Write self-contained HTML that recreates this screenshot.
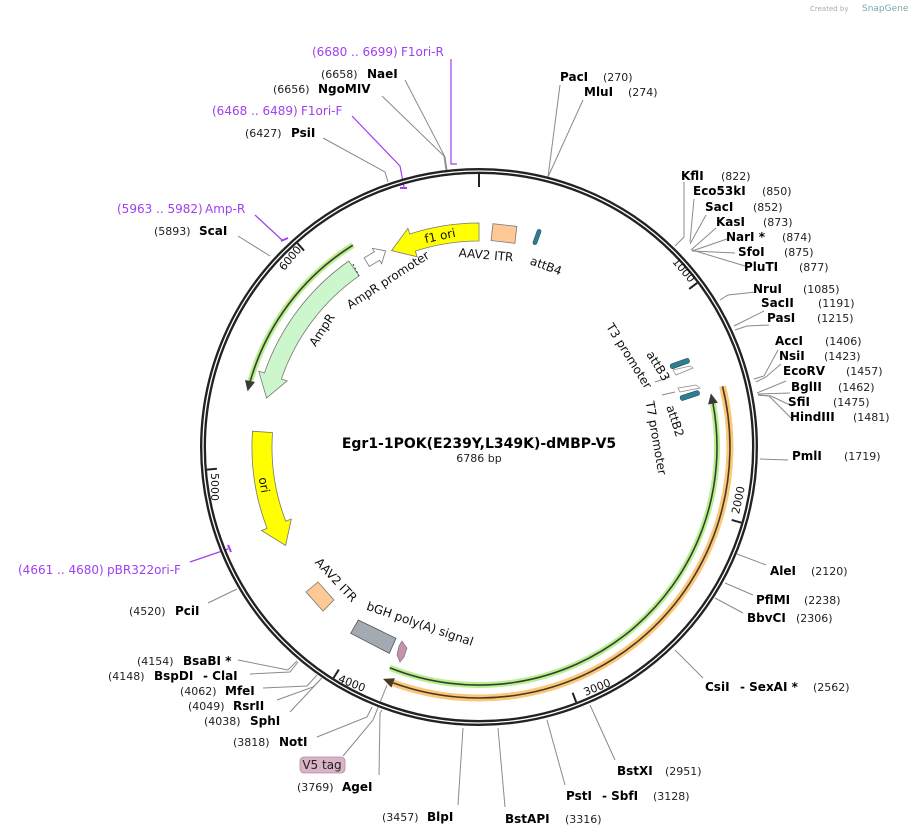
<!DOCTYPE html>
<html><head><meta charset="utf-8"><style>
html,body{margin:0;padding:0;background:#fff;}
svg{display:block;font-family:"DejaVu Sans","Liberation Sans",sans-serif;}
.n{font-size:12px;font-weight:bold;fill:#000;}
.p{font-size:11px;fill:#222;}
.pr{font-size:12px;fill:#a040f0;}
.f{font-size:12px;fill:#111;}
.l{stroke:#8a8a8a;stroke-width:1;fill:none;}
.pl{stroke:#a040f0;stroke-width:1.2;fill:none;}
</style></head><body>
<svg width="908" height="837" viewBox="0 0 908 837" xmlns="http://www.w3.org/2000/svg">
<text x="810" y="11" font-size="7" fill="#aaa">Created by</text>
<text x="862" y="11" font-size="9" fill="#7aa">SnapGene</text>

<g class="l">
<polyline points="560,85 548,177"/>
<polyline points="583,100 548,177"/>
<polyline points="405,80 445,157 447,170"/>
<polyline points="382,96 444,156 446,170"/>
<polyline points="323,138 385,172 388,182"/>
<polyline points="238,236 270,256"/>
<polyline points="684,182 684,237 675,246"/>
<polyline points="694,199 690,242"/>
<polyline points="706,215 690,244"/>
<polyline points="716,228 691,250"/>
<polyline points="727,239 692,251"/>
<polyline points="735,253 692,251"/>
<polyline points="745,266 692,250"/>
<polyline points="756,292 728,295 720,300"/>
<polyline points="764,311 734,326"/>
<polyline points="769,325 747,326 735,330"/>
<polyline points="778,350 764,376 754,379"/>
<polyline points="781,364 766,377 756,382"/>
<polyline points="786,381 757,393"/>
<polyline points="790,393 758,394"/>
<polyline points="792,406 771,396 758,395"/>
<polyline points="793,420 769,396 758,395"/>
<polyline points="788,460 760,459"/>
<polyline points="766,565 737,554"/>
<polyline points="753,595 725,583"/>
<polyline points="743,613 715,598"/>
<polyline points="703,678 675,650"/>
<polyline points="615,760 590,705"/>
<polyline points="565,785 547,720"/>
<polyline points="505,807 498,728"/>
<polyline points="458,805 463,728"/>
<polyline points="379,775 380,713 382,710"/>
<polyline points="343,756 373,720 387,685"/>
<polyline points="317,737 367,717 372,707"/>
<polyline points="290,712 320,680"/>
<polyline points="277,700 313,687 322,678"/>
<polyline points="263,688 307,686 317,675"/>
<polyline points="250,674 290,672 298,662"/>
<polyline points="238,660 288,670 297,661"/>
<polyline points="208,603 237,589"/>
</g>

<g class="pl">
<polyline points="451,59 451,164 457,164"/>
<polyline points="352,116 400,166 404,187"/>
<line x1="400" y1="188" x2="407" y2="188" stroke-width="2"/>
<polyline points="255,215 282,240"/>
<line x1="281" y1="241" x2="288" y2="238" stroke-width="2"/>
<polyline points="190,562 228,549"/>
<line x1="228" y1="545" x2="231" y2="552" stroke-width="2"/>
</g>

<circle cx="479" cy="447" r="276" fill="none" stroke="#222" stroke-width="6"/>
<circle cx="479" cy="447" r="276" fill="none" stroke="#fff" stroke-width="1.3"/>

<g stroke="#222" stroke-width="2">
<line x1="479" y1="173" x2="479" y2="187"/>
<line x1="479" y1="174" x2="479" y2="184" transform="rotate(53.05 479 447)"/>
<line x1="479" y1="174" x2="479" y2="184" transform="rotate(106.1 479 447)"/>
<line x1="479" y1="174" x2="479" y2="184" transform="rotate(159.15 479 447)"/>
<line x1="479" y1="174" x2="479" y2="184" transform="rotate(212.2 479 447)"/>
<line x1="479" y1="174" x2="479" y2="184" transform="rotate(265.25 479 447)"/>
<line x1="479" y1="174" x2="479" y2="184" transform="rotate(318.3 479 447)"/>
</g>
<g font-size="11" fill="#111" text-anchor="middle">
<text x="684" y="274" transform="rotate(50 684 270)">1000</text>
<text x="738" y="504" transform="rotate(-78 738 500)">2000</text>
<text x="597" y="691" transform="rotate(-22 597 687)">3000</text>
<text x="352" y="687" transform="rotate(22 352 683)">4000</text>
<text x="215" y="491" transform="rotate(90 215 487)">5000</text>
<text x="290" y="262" transform="rotate(-50 290 258)">6000</text>
</g>

<path d="M479,223 A224,224 0 0 0 409.8,234 L407.9,228.3 L391.6,250.6 L417.2,256.8 L415.3,251.1 A206,206 0 0 1 479,241 Z" fill="#ffff00" stroke="#777" stroke-width="0.8"/>
<text class="f" x="440" y="240" text-anchor="middle" transform="rotate(-12 440 236)">f1 ori</text>
<rect x="492" y="225" width="24" height="17" fill="#fec994" stroke="#777" stroke-width="0.8" transform="rotate(6.5 504 233)"/>
<text class="f" x="486" y="259" text-anchor="middle" transform="rotate(5 486 255)">AAV2 ITR</text>
<rect x="535" y="229" width="4" height="16" rx="2" fill="#2a7f95" stroke="#234" stroke-width="0.5" transform="rotate(20 537 237)"/>
<text class="f" x="546" y="270" text-anchor="middle" transform="rotate(20 546 266)">attB4</text>

<path d="M-10,0 L0,-9 L0,-5 L12,-5 L12,5 L0,5 L0,9 Z" fill="#fff" stroke="#777" stroke-width="0.8" transform="translate(377,256) rotate(149)"/>
<text class="f" x="388" y="284" text-anchor="middle" transform="rotate(-33 388 280)">AmpR promoter</text>

<path d="M348.8,261 A227,227 0 0 0 264.4,373.1 L258.7,371.1 L266.6,397.9 L287.1,380.9 L281.4,379 A209,209 0 0 1 359.1,275.8 Z" fill="#ccf7cc" stroke="#777" stroke-width="0.8"/>
<line x1="353" y1="264" x2="359" y2="276" stroke="#333" stroke-dasharray="2,2"/>
<text class="f" x="322" y="334" text-anchor="middle" transform="rotate(-57 322 330)">AmpR</text>

<path d="M352.9,245.2 A238,238 0 0 0 250.2,381.4" fill="none" stroke="#b8f08c" stroke-width="6"/>
<path d="M352.9,245.2 A238,238 0 0 0 250.2,381.4" fill="none" stroke="#3a3a3a" stroke-width="1.6"/>
<polygon points="245,380 255,382 247.6,391.4" fill="#3a3a3a"/>

<path d="M252.5,431.2 A227,227 0 0 0 267.1,528.4 L261.5,530.5 L285.6,545.5 L291.3,519 L285.7,521.2 A207,207 0 0 1 272.5,432.6 Z" fill="#ffff00" stroke="#777" stroke-width="0.8"/>
<text class="f" x="264" y="489" text-anchor="middle" transform="rotate(80 264 485)">ori</text>

<polygon points="306,592 318,582 334,600 323,611" fill="#fec994" stroke="#777" stroke-width="0.8"/>
<text class="f" x="336" y="584" text-anchor="middle" transform="rotate(47 336 580)">AAV2 ITR</text>
<polygon points="350.7,633.3 358.3,620 396,638.3 389.3,653.3" fill="#a3aab2" stroke="#555" stroke-width="0.8"/>
<text class="f" x="420" y="628" text-anchor="middle" transform="rotate(19 420 624)">bGH poly(A) signal</text>
<polygon points="402,641 407,648 404,657 400,662 397,655 399,646" fill="#c891b0" stroke="#666" stroke-width="0.6"/>

<rect x="670" y="361" width="20" height="5" rx="2" fill="#2a7f95" stroke="#234" stroke-width="0.5" transform="rotate(-20 680 364)"/>
<polygon points="673,370 690,366 693,368 676,375" fill="#fff" stroke="#888" stroke-width="0.7"/>
<line x1="655" y1="382" x2="670" y2="377" class="l"/>
<polygon points="678,388 696,385 700,388 680,392" fill="#fff" stroke="#888" stroke-width="0.7"/>
<rect x="680" y="393" width="20" height="5" rx="2" fill="#2a7f95" stroke="#234" stroke-width="0.5" transform="rotate(-18 690 396)"/>
<line x1="662" y1="395" x2="675" y2="392" class="l"/>
<text class="f" x="629" y="360" text-anchor="middle" transform="rotate(58 629 356)">T3 promoter</text>
<text class="f" x="658" y="370" text-anchor="middle" transform="rotate(58 658 366)">attB3</text>
<text class="f" x="675" y="425" text-anchor="middle" transform="rotate(72 675 421)">attB2</text>
<text class="f" x="656" y="442" text-anchor="middle" transform="rotate(80 656 438)">T7 promoter</text>

<path d="M389.8,667.7 A238,238 0 0 0 713,403.6" fill="none" stroke="#b8f08c" stroke-width="6"/>
<path d="M389.8,667.7 A238,238 0 0 0 713,403.6" fill="none" stroke="#3a3a3a" stroke-width="1.6"/>
<polygon points="717.9,402.7 708.1,404.5 710.9,393.4" fill="#3a3a3a"/>
<path d="M722.5,386.3 A251,251 0 0 1 393.2,682.9" fill="none" stroke="#fbc77a" stroke-width="7"/>
<path d="M722.5,386.3 A251,251 0 0 1 393.2,682.9" fill="none" stroke="#4a3a22" stroke-width="1.6"/>
<polygon points="391.4,687.6 394.9,678.2 383,678.9" fill="#4a3a22"/>

<text x="479" y="448" text-anchor="middle" font-size="14" font-weight="bold">Egr1-1POK(E239Y,L349K)-dMBP-V5</text>
<text x="479" y="462" text-anchor="middle" font-size="11" fill="#222">6786 bp</text>

<text class="pr" x="312" y="56">(6680 .. 6699)</text><text class="pr" x="401" y="56">F1ori-R</text>
<text class="pr" x="212" y="115">(6468 .. 6489)</text><text class="pr" x="301" y="115">F1ori-F</text>
<text class="pr" x="117" y="213">(5963 .. 5982)</text><text class="pr" x="205" y="213">Amp-R</text>
<text class="pr" x="18" y="574">(4661 .. 4680)</text><text class="pr" x="107" y="574">pBR322ori-F</text>

<text class="n" x="560" y="81">PacI</text><text class="p" x="603" y="81">(270)</text>
<text class="n" x="584" y="96">MluI</text><text class="p" x="628" y="96">(274)</text>
<text class="p" x="321" y="78">(6658)</text><text class="n" x="367" y="78">NaeI</text>
<text class="p" x="273" y="93">(6656)</text><text class="n" x="318" y="93">NgoMIV</text>
<text class="p" x="245" y="137">(6427)</text><text class="n" x="291" y="137">PsiI</text>
<text class="p" x="154" y="235">(5893)</text><text class="n" x="199" y="235">ScaI</text>

<text class="n" x="681" y="180">KflI</text><text class="p" x="721" y="180">(822)</text>
<text class="n" x="693" y="195">Eco53kI</text><text class="p" x="762" y="195">(850)</text>
<text class="n" x="705" y="211">SacI</text><text class="p" x="753" y="211">(852)</text>
<text class="n" x="716" y="226">KasI</text><text class="p" x="763" y="226">(873)</text>
<text class="n" x="726" y="241">NarI *</text><text class="p" x="782" y="241">(874)</text>
<text class="n" x="738" y="256">SfoI</text><text class="p" x="784" y="256">(875)</text>
<text class="n" x="744" y="271">PluTI</text><text class="p" x="799" y="271">(877)</text>
<text class="n" x="753" y="293">NruI</text><text class="p" x="803" y="293">(1085)</text>
<text class="n" x="761" y="307">SacII</text><text class="p" x="818" y="307">(1191)</text>
<text class="n" x="767" y="322">PasI</text><text class="p" x="817" y="322">(1215)</text>
<text class="n" x="775" y="345">AccI</text><text class="p" x="825" y="345">(1406)</text>
<text class="n" x="779" y="360">NsiI</text><text class="p" x="824" y="360">(1423)</text>
<text class="n" x="783" y="375">EcoRV</text><text class="p" x="846" y="375">(1457)</text>
<text class="n" x="791" y="391">BglII</text><text class="p" x="838" y="391">(1462)</text>
<text class="n" x="788" y="406">SfiI</text><text class="p" x="833" y="406">(1475)</text>
<text class="n" x="790" y="421">HindIII</text><text class="p" x="853" y="421">(1481)</text>
<text class="n" x="792" y="460">PmlI</text><text class="p" x="844" y="460">(1719)</text>
<text class="n" x="770" y="575">AleI</text><text class="p" x="811" y="575">(2120)</text>
<text class="n" x="756" y="604">PflMI</text><text class="p" x="804" y="604">(2238)</text>
<text class="n" x="747" y="622">BbvCI</text><text class="p" x="796" y="622">(2306)</text>
<text class="n" x="705" y="691">CsiI</text><text class="n" x="740" y="691">- SexAI *</text><text class="p" x="813" y="691">(2562)</text>
<text class="n" x="617" y="775">BstXI</text><text class="p" x="665" y="775">(2951)</text>
<text class="n" x="566" y="800">PstI</text><text class="n" x="602" y="800">- SbfI</text><text class="p" x="653" y="800">(3128)</text>
<text class="n" x="505" y="823">BstAPI</text><text class="p" x="565" y="823">(3316)</text>
<text class="p" x="382" y="821">(3457)</text><text class="n" x="427" y="821">BlpI</text>
<text class="p" x="297" y="791">(3769)</text><text class="n" x="342" y="791">AgeI</text>
<rect x="300" y="757" width="45" height="16" rx="4" fill="#d9b3c6" stroke="#b48ca0" stroke-width="0.8"/>
<text x="322" y="769" text-anchor="middle" font-size="12" fill="#222">V5 tag</text>
<text class="p" x="233" y="746">(3818)</text><text class="n" x="279" y="746">NotI</text>
<text class="p" x="204" y="725">(4038)</text><text class="n" x="250" y="725">SphI</text>
<text class="p" x="188" y="710">(4049)</text><text class="n" x="233" y="710">RsrII</text>
<text class="p" x="180" y="695">(4062)</text><text class="n" x="225" y="695">MfeI</text>
<text class="p" x="108" y="680">(4148)</text><text class="n" x="154" y="680">BspDI</text><text class="n" x="203" y="680">- ClaI</text>
<text class="p" x="137" y="665">(4154)</text><text class="n" x="183" y="665">BsaBI *</text>
<text class="p" x="129" y="615">(4520)</text><text class="n" x="175" y="615">PciI</text>
</svg>
</body></html>
